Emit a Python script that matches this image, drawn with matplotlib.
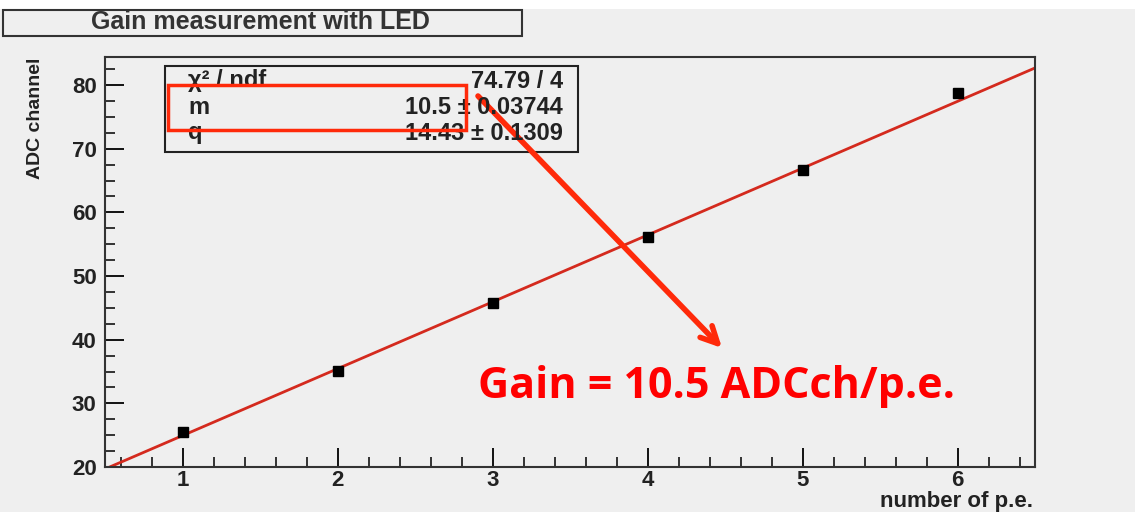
import numpy as np
import matplotlib.pyplot as plt
from matplotlib.patches import Rectangle
from matplotlib.ticker import MultipleLocator

# --- dati ---
n_pe = [1, 2, 3, 4, 5, 6]
adc = [25.5, 35.1, 45.8, 56.2, 66.6, 78.7]
fit_m = 10.5
fit_q = 14.43
stat_labels = ["χ² / ndf", "m", "q"]
stat_values = ["74.79 / 4", "10.5 ± 0.03744", "14.43 ± 0.1309"]

W, H = 1135, 512
BG = "#efefef"

def fx(x):
    return x / W

def fy(y):
    return 1 - y / H

fig = plt.figure(figsize=(W / 100, H / 100), dpi=100, facecolor=BG)
plt.rcParams['font.family'] = ['Liberation Sans', 'DejaVu Sans']

# striscia bianca in alto
fig.patches.append(Rectangle((0, fy(9)), 1, 9 / H, transform=fig.transFigure,
                             facecolor="white", edgecolor="none", zorder=0))

ax = fig.add_axes([fx(105), fy(467), fx(1035) - fx(105), fy(57) - fy(467)])
ax.set_facecolor(BG)
ax.set_xlim(0.5, 6.5)
ax.set_ylim(20, 84.4)

# --- fit lineare ---
xf = np.linspace(0.5, 6.5, 50)
ax.plot(xf, fit_m * xf + fit_q, color="#d42a1e", lw=2, zorder=2)
ax.plot(n_pe, adc, ls="none", marker="s", ms=7, color="black", zorder=3)

ax.xaxis.set_major_locator(MultipleLocator(1))
ax.xaxis.set_minor_locator(MultipleLocator(0.2))
ax.yaxis.set_major_locator(MultipleLocator(10))
ax.yaxis.set_minor_locator(MultipleLocator(2.5))
ax.tick_params(which="major", direction="in", length=14, width=1.3,
               labelsize=16, top=False, right=False)
ax.tick_params(axis="x", which="major", pad=2)
ax.tick_params(axis="y", which="major", pad=6)
ax.tick_params(which="minor", direction="in", length=7, width=1.1,
               top=False, right=False)
for lab in ax.get_xticklabels() + ax.get_yticklabels():
    lab.set_fontweight("bold")
    lab.set_color("#222222")
for s in ax.spines.values():
    s.set_linewidth(1.5)
    s.set_color("#333333")

fig.text(fx(35), fy(58), "ADC channel", rotation=90, ha="center", va="top",
         fontsize=14, fontweight="bold", color="#222222")
fig.text(fx(1033), fy(502), "number of p.e.", ha="right", va="center",
         fontsize=16, fontweight="bold", color="#222222")

# --- box titolo ---
fig.patches.append(Rectangle((fx(3), fy(36)), fx(522) - fx(3), fy(10) - fy(36),
                             transform=fig.transFigure, facecolor=BG,
                             edgecolor="#333333", lw=1.5, zorder=1))
fig.text(fx(260), fy(22), "Gain measurement with LED", ha="center", va="center",
         fontsize=18, fontweight="bold", color="#333333")

# --- box statistiche ---
fig.patches.append(Rectangle((fx(165), fy(152)), fx(578) - fx(165), fy(66) - fy(152),
                             transform=fig.transFigure, facecolor=BG,
                             edgecolor="#222222", lw=1.5, zorder=1))
for i, (lab, val) in enumerate(zip(stat_labels, stat_values)):
    yy = fy(81 + 26 * i)
    fig.text(fx(188), yy, lab, ha="left", va="center", fontsize=17,
             fontweight="bold", color="#222222")
    fig.text(fx(563), yy, val, ha="right", va="center", fontsize=17,
             fontweight="bold", color="#222222")

# --- evidenziazione e freccia ---
fig.patches.append(Rectangle((fx(168), fy(130)), fx(466) - fx(168), fy(85) - fy(130),
                             transform=fig.transFigure, facecolor="none",
                             edgecolor="#ff2a0a", lw=2.5, zorder=5))
fig.add_artist(plt.Annotation("", xy=(fx(722), fy(348)), xytext=(fx(478), fy(96)),
                              xycoords=fig.transFigure, textcoords=fig.transFigure,
                              arrowprops=dict(arrowstyle="->", color="#ff2a0a", lw=4,
                                              mutation_scale=30, shrinkA=0, shrinkB=0)))

fig.text(fx(716), fy(387), "Gain = 10.5 ADCch/p.e.", ha="center", va="center",
         fontsize=31, fontweight="bold", color="#ff0000", family="Open Sans")

fig.savefig("out.png", dpi=100, facecolor=BG)
